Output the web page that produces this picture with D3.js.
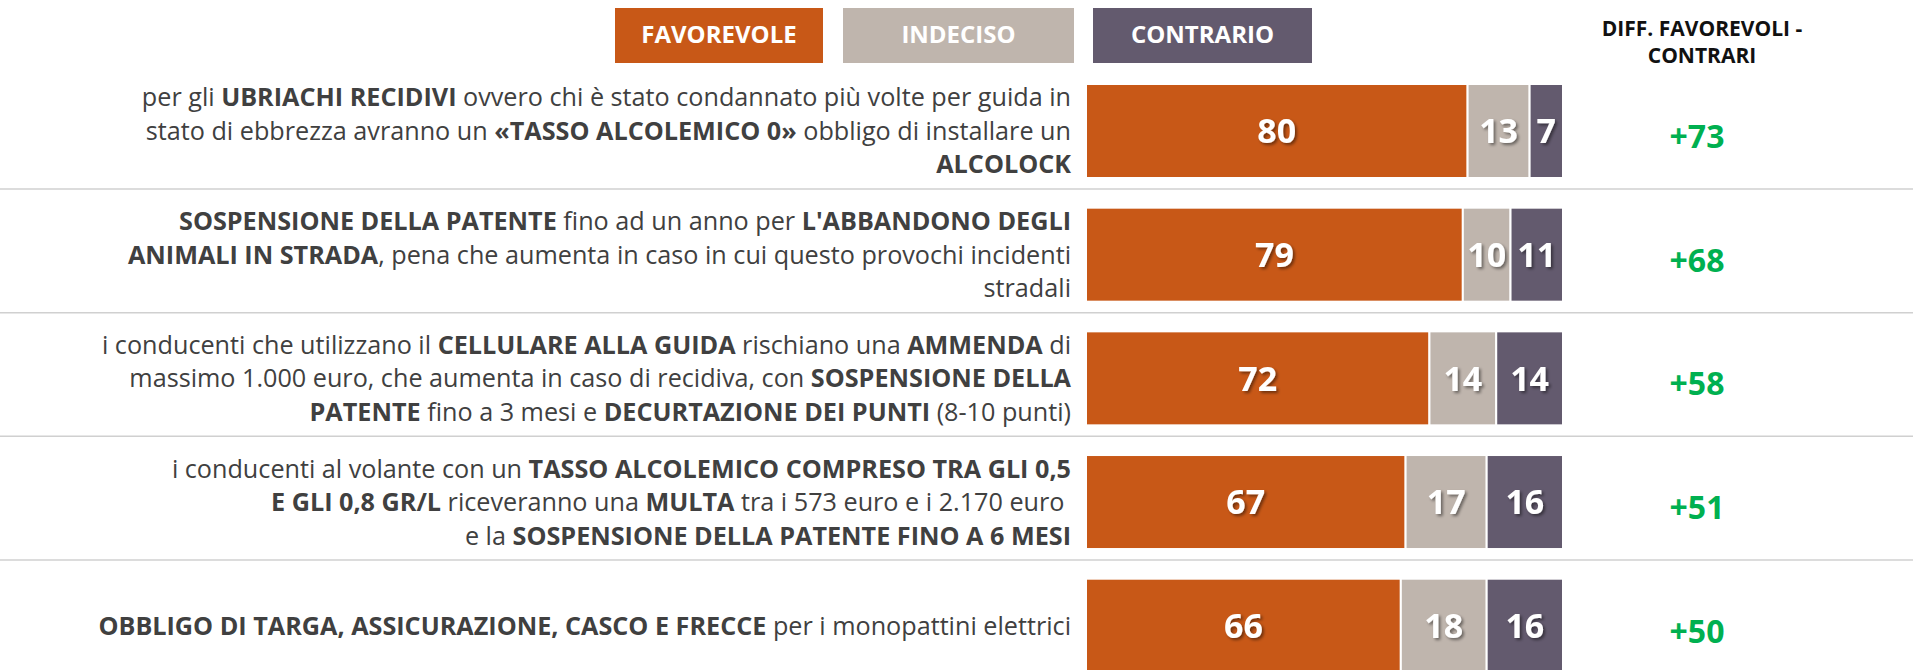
<!DOCTYPE html>
<html>
<head>
<meta charset="utf-8">
<script src="https://cdn.jsdelivr.net/npm/d3@7"></script>
<style>
  body { margin: 0; background: #fff; overflow: hidden; }
  svg { display: block; font-family: "Open Sans", "Noto Sans", sans-serif; }
</style>
</head>
<body>
<svg id="chart"></svg>
<script>
// righe del grafico (** = grassetto)
var categories = [
  ["per gli **UBRIACHI RECIDIVI** ovvero chi è stato condannato più volte per guida in",
   "stato di ebbrezza avranno un **«TASSO ALCOLEMICO 0»** obbligo di installare un",
   "**ALCOLOCK**"],
  ["**SOSPENSIONE DELLA PATENTE** fino ad un anno per **L'ABBANDONO DEGLI**",
   "**ANIMALI IN STRADA**, pena che aumenta in caso in cui questo provochi incidenti",
   "stradali"],
  ["i conducenti che utilizzano il **CELLULARE ALLA GUIDA** rischiano una **AMMENDA** di",
   "massimo 1.000 euro, che aumenta in caso di recidiva, con **SOSPENSIONE DELLA**",
   "**PATENTE** fino a 3 mesi e **DECURTAZIONE DEI PUNTI** (8-10 punti)"],
  ["i conducenti al volante con un **TASSO ALCOLEMICO COMPRESO TRA GLI 0,5**",
   "**E GLI 0,8 GR/L** riceveranno una **MULTA** tra i 573 euro e i 2.170 euro\u00a0",
   "e la **SOSPENSIONE DELLA PATENTE FINO A 6 MESI**"],
  ["**OBBLIGO DI TARGA, ASSICURAZIONE, CASCO E FRECCE** per i monopattini elettrici"]
];

var seriesNames = ["FAVOREVOLE", "INDECISO", "CONTRARIO"];
var favorevole = [80, 79, 72, 67, 66];
var indeciso = [13, 10, 14, 17, 18];
var contrario = [7, 11, 14, 16, 16];
var diff = [73, 68, 58, 51, 50];
var diffTitle = ["DIFF. FAVOREVOLI -", "CONTRARI"];

document.addEventListener('DOMContentLoaded', () => {
  var W = 1913, H = 670;
  var colors = ["#C85817", "#BFB5AD", "#635A6E"];
  var textColor = "#404040";

  var svg = d3.select('#chart')
    .attr('width', W)
    .attr('height', H);

  var defs = svg.append('defs');
  defs.append('filter')
      .attr('id', 'shadow')
      .attr('x', '-20%').attr('y', '-20%')
      .attr('width', '150%').attr('height', '150%')
    .append('feDropShadow')
      .attr('dx', 2).attr('dy', 2)
      .attr('stdDeviation', 1.5)
      .attr('flood-color', '#000')
      .attr('flood-opacity', 0.45);

  var rows = categories.map((c, i) => ({
    i: i,
    lines: c,
    values: [favorevole[i], indeciso[i], contrario[i]],
    diff: diff[i]
  }));

  var x = d3.scaleLinear()
    .domain([0, 100])
    .range([1086, 1563]);

  var y = d3.scaleBand()
    .domain(rows.map(d => d.i))
    .range([84, 672.7])
    .paddingInner(0.24)
    .paddingOuter(0);

  // legenda
  var legendBoxes = [[615, 208], [843, 231], [1093, 219]];
  var legend = svg.append('g').attr('class', 'legend');
  seriesNames.forEach((name, k) => {
    legend.append('rect')
      .attr('x', legendBoxes[k][0])
      .attr('y', 8)
      .attr('width', legendBoxes[k][1])
      .attr('height', 55)
      .attr('fill', colors[k]);
    legend.append('text')
      .attr('x', legendBoxes[k][0] + legendBoxes[k][1] / 2)
      .attr('y', 43)
      .attr('text-anchor', 'middle')
      .attr('fill', '#fff')
      .attr('font-weight', 700)
      .attr('font-size', 24)
      .text(name);
  });

  svg.append('text')
    .attr('text-anchor', 'middle')
    .attr('font-weight', 700)
    .attr('font-size', 21)
    .attr('fill', '#111')
    .selectAll('tspan')
    .data(diffTitle)
    .enter().append('tspan')
      .attr('x', 1702)
      .attr('y', (d, k) => 36 + k * 27)
      .text(d => d);

  // separatori
  svg.selectAll('.sep')
    .data(rows.slice(0, 4))
    .enter().append('line')
      .attr('class', 'sep')
      .attr('x1', 0)
      .attr('x2', W)
      .attr('y1', d => y(d.i) + y.bandwidth() + 11)
      .attr('y2', d => y(d.i) + y.bandwidth() + 11)
      .attr('stroke', '#d0d0d0')
      .attr('stroke-width', 1.5);

  var row = svg.selectAll('.row')
    .data(rows)
    .enter().append('g')
      .attr('class', 'row');

  // etichette
  row.each(function(d) {
    var g = d3.select(this);
    var cy = y(d.i) + y.bandwidth() / 2;
    var n = d.lines.length;
    d.lines.forEach((line, k) => {
      var t = g.append('text')
        .attr('x', 1071)
        .attr('y', cy + (k - (n - 1) / 2) * 33.5 + 9)
        .attr('text-anchor', 'end')
        .attr('font-size', 25.2)
        .attr('fill', textColor);
      line.split('**').forEach((part, j) => {
        if (!part) return;
        t.append('tspan')
          .attr('font-weight', j % 2 ? 700 : 400)
          .text(part);
      });
    });
  });

  // barre impilate
  var stack = d3.stack().keys([0, 1, 2]).value((d, k) => d.values[k]);
  var layers = stack(rows);

  layers.forEach((layer, k) => {
    svg.append('g')
      .selectAll('rect')
      .data(layer)
      .enter().append('rect')
        .attr('x', s => x(s[0]))
        .attr('y', s => y(s.data.i))
        .attr('width', s => x(s[1]) - x(s[0]))
        .attr('height', y.bandwidth())
        .attr('fill', colors[k])
        .attr('stroke', '#fff')
        .attr('stroke-width', 2);

    svg.append('g')
      .selectAll('text')
      .data(layer)
      .enter().append('text')
        .attr('x', s => (x(s[0]) + x(s[1])) / 2)
        .attr('y', s => y(s.data.i) + y.bandwidth() / 2)
        .attr('dy', '0.36em')
        .attr('text-anchor', 'middle')
        .attr('font-weight', 700)
        .attr('font-size', 34)
        .attr('fill', '#fff')
        .attr('filter', 'url(#shadow)')
        .text(s => s[1] - s[0]);
  });

  // differenza favorevoli - contrari
  row.append('text')
    .attr('x', 1697)
    .attr('y', d => y(d.i) + y.bandwidth() / 2 + 17)
    .attr('text-anchor', 'middle')
    .attr('font-weight', 700)
    .attr('font-size', 32)
    .attr('fill', '#00B050')
    .text(d => '+' + d.diff);
});
</script>
</body>
</html>
